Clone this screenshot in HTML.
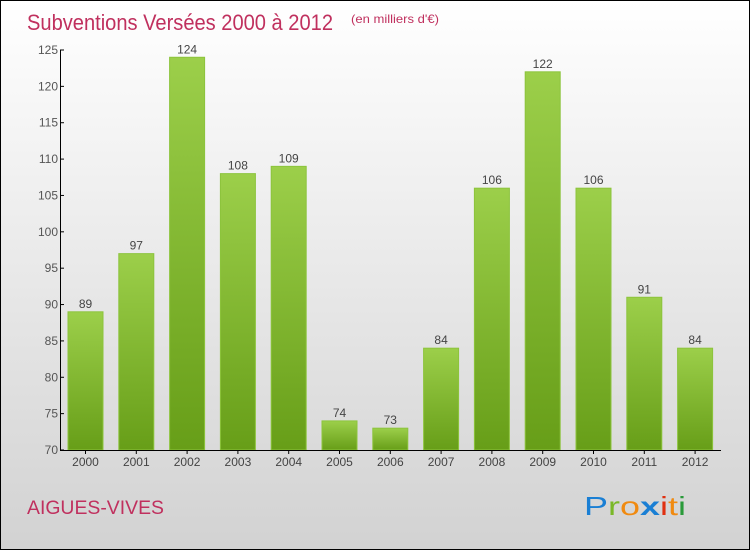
<!DOCTYPE html>
<html><head><meta charset="utf-8"><style>
body{margin:0}
#c{position:relative;width:750px;height:550px;box-sizing:border-box;border:1px solid #000;background:linear-gradient(#ffffff,#d2d2d2);font-family:"Liberation Sans",sans-serif;overflow:hidden}
</style></head><body>
<div id="c">
<svg id="s" width="750" height="550" style="position:absolute;left:-1px;top:-1px">
<defs><linearGradient id="g" x1="0" y1="0" x2="0" y2="1"><stop offset="0" stop-color="#9ccf4a"/><stop offset="1" stop-color="#679e18"/></linearGradient></defs>
<text x="27" y="30" font-size="22" fill="#c0305e" textLength="306" lengthAdjust="spacingAndGlyphs">Subventions Versées 2000 à 2012</text>
<text x="351" y="23" font-size="12" fill="#c0305e" textLength="88" lengthAdjust="spacingAndGlyphs">(en milliers d'€)</text>
<text x="27" y="514" font-size="19" fill="#c0305e" textLength="137" lengthAdjust="spacingAndGlyphs">AIGUES-VIVES</text>
<g font-size="26" font-family="Liberation Sans, sans-serif">
<text x="584" y="515" textLength="102" lengthAdjust="spacingAndGlyphs"><tspan fill="#1a7fd4">P</tspan><tspan fill="#7ab828">r</tspan><tspan fill="#f08a10">o</tspan><tspan fill="#1a7fd4" font-weight="bold">x</tspan><tspan fill="#e03010">i</tspan><tspan fill="#f08a10">t</tspan><tspan fill="#2a9a3a">i</tspan></text></g>
<g id="bars"></g>
<g id="axes"></g>
</svg>
</div>
<script>
const years=["2000","2001","2002","2003","2004","2005","2006","2007","2008","2009","2010","2011","2012"];
const values=[89,97,124,108,109,74,73,84,106,122,106,91,84];
const yTicks=[70,75,80,85,90,95,100,105,110,115,120,125];
const ns="http://www.w3.org/2000/svg";
const y=v=>450-(v-70)*400/55;
const x=i=>85.5+i*50.8;
function mk(t,a,p){const e=document.createElementNS(ns,t);for(const k in a)e.setAttribute(k,a[k]);p.appendChild(e);return e;}
const bars=document.getElementById('bars'),axes=document.getElementById('axes');
values.forEach((v,i)=>{
 const r=mk('rect',{x:x(i)-17.5,y:y(v),width:35,height:450-y(v),fill:'url(#g)',stroke:'#8cc43c','stroke-width':1},bars);
 
 
 const t=mk('text',{x:x(i),y:y(v)-4,'font-size':12,'text-anchor':'middle',fill:'#444'},bars);
 t.textContent=v;
 
 
 const l=mk('text',{x:x(i),y:466,'font-size':12,'text-anchor':'middle',fill:'#444'},axes);
 l.textContent=years[i];
 
 
 mk('line',{x1:x(i),x2:x(i),y1:450,y2:454,stroke:'#000'},axes);
});
yTicks.forEach(v=>{
 mk('line',{x1:60,x2:64,y1:y(v),y2:y(v),stroke:'#000'},axes);
 const t=mk('text',{x:58,y:y(v)+4,'font-size':12,'text-anchor':'end',fill:'#555'},axes);
 t.textContent=v;
 
 
});
const ya=mk('line',{x1:60.5,x2:60.5,y1:50,y2:450,stroke:'#000'},axes);


const xa=mk('line',{x1:60,x2:721,y1:450.5,y2:450.5,stroke:'#000'},axes);


</script>
</body></html>
